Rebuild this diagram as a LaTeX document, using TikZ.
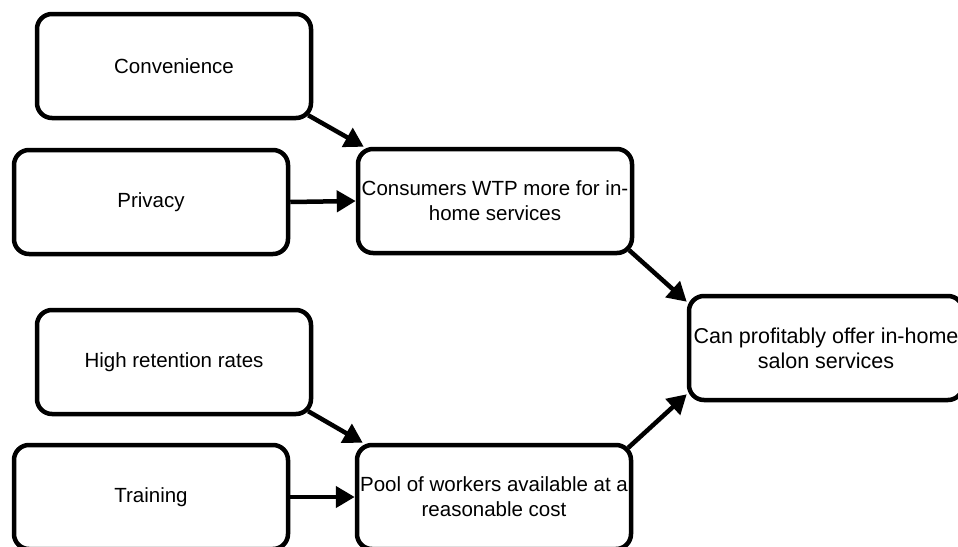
\documentclass[tikz,border=0pt]{standalone}
\usepackage{fontspec}
\setmainfont{Liberation Sans}
\usetikzlibrary{arrows.meta}
\begin{document}
\begin{tikzpicture}[x=1pt,y=-1pt,
  box/.style={draw=black,line width=4.5pt,rounded corners=15pt,fill=white,
    minimum width=274pt,minimum height=104pt,inner sep=2pt,align=center,
    font=\fontsize{20.5}{25}\selectfont},
  conn/.style={line width=4.5pt,-{Triangle[length=19pt,width=21pt]}}]
\clip (0,0) rectangle (958,546);
\fill[white] (0,0) rectangle (958,546);
\node[box] (conv) at (174,66) {Convenience};
\node[box] (priv) at (151,202) {Privacy};
\node[box] (cons) at (495,201) {Consumers WTP more for in-\\home services};
\node[box,font=\fontsize{21.5}{25}\selectfont] (can) at (826,348) {Can profitably offer in-home\\salon services};
\node[box] (high) at (174,362) {High retention rates};
\node[box] (train) at (151,497) {Training};
\node[box] (pool) at (494,497) {Pool of workers available at a\\reasonable cost};
\draw[conn] ([xshift=-5pt,yshift=5pt]conv.south east) -- ([xshift=8pt]cons.north west);
\draw[conn] (priv.east) -- (cons.west);
\draw[conn] ([xshift=-5pt,yshift=5pt]cons.south east) -- ([yshift=-8pt]can.north west);
\draw[conn] ([xshift=-5pt,yshift=5pt]high.south east) -- ([xshift=8pt]pool.north west);
\draw[conn] (train.east) -- (pool.west);
\draw[conn] ([xshift=-5pt,yshift=-5pt]pool.north east) -- ([yshift=8pt]can.south west);
\end{tikzpicture}
\end{document}
